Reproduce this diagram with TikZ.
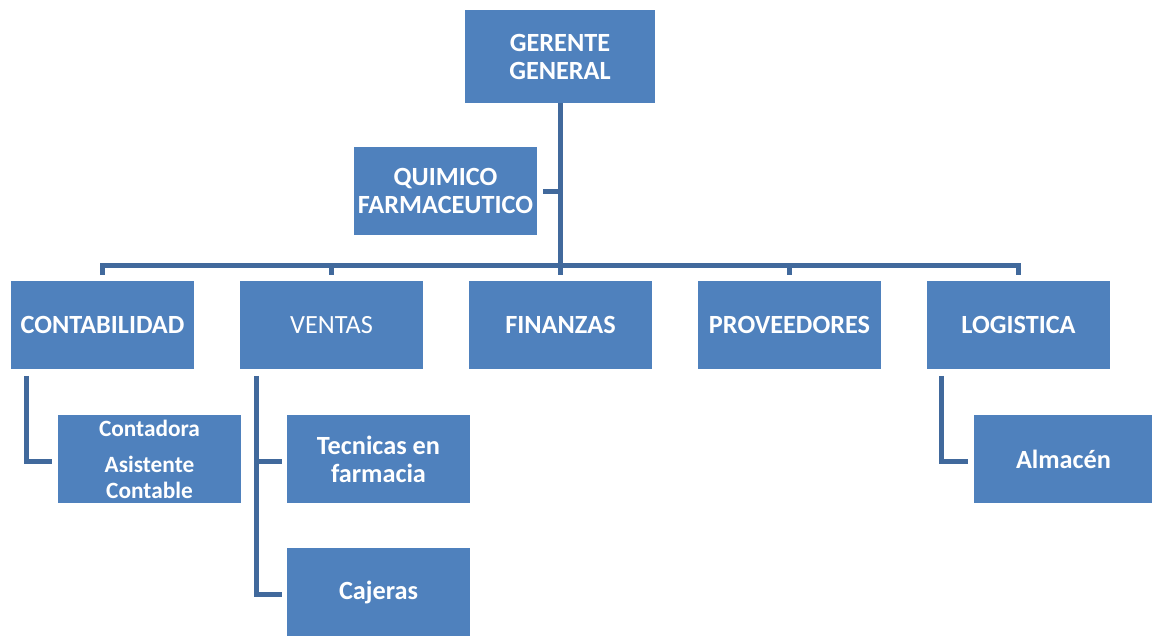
\documentclass[tikz,border=0pt]{standalone}
\usepackage{fontspec}
\setmainfont{Carlito}
\definecolor{cajaazul}{HTML}{4F81BD}
\definecolor{lineaazul}{HTML}{41699C}
\tikzset{
  caja/.style={rectangle,fill=cajaazul,text=white,inner sep=0pt,align=center,
    minimum width=137.25pt,minimum height=66pt,font=\fontsize{19.7}{21}\selectfont\bfseries},
  linea/.style={draw=lineaazul,line width=3.75pt}
}
\begin{document}
\begin{tikzpicture}[x=0.75pt,y=-0.75pt]
    \useasboundingbox (0,0) rectangle (1152,635);

    % 上层
    \node [caja,minimum width=142.5pt,minimum height=69.75pt] (gerente) at (560,56.5) {GERENTE\\GENERAL};
    \node [caja] (quimico) at (445.5,191) {QUIMICO\\FARMACEUTICO};

    % 各部门
    \node [caja] (conta) at (102.5,325) {CONTABILIDAD};
    \node [caja,font=\fontsize{19.7}{21}\selectfont] (ventas) at (331.5,325) {VENTAS};
    \node [caja] (finanzas) at (560.5,325) {FINANZAS};
    \node [caja] (prov) at (789.5,325) {PROVEEDORES};
    \node [caja] (logis) at (1018.5,325) {LOGISTICA};

    % 下层
    \node [caja,font=\fontsize{17.5}{19.5}\selectfont\bfseries] (contadora) at (149.5,459) {Contadora\\[7.5pt]Asistente\\Contable};
    \node [caja] (tecnicas) at (378.5,459) {Tecnicas en\\farmacia};
    \node [caja] (cajeras) at (378.5,592) {\raisebox{-3pt}{Cajeras}};
    \node [caja,minimum width=134pt] (almacen) at (1063.5,459) {Almac\'en};

    % 连线
    \coordinate (bus) at (560,265);
    \draw [linea] (gerente.south) -- (bus);
    \draw [linea] ([xshift=4.5pt]quimico.east) -- (quimico.east -| gerente.south);
    \draw [linea] ([yshift=4.5pt]conta.north) |- (bus) -| ([yshift=4.5pt]logis.north);
    \draw [linea] ([yshift=4.5pt]ventas.north) -- (ventas.north |- bus);
    \draw [linea] ([yshift=4.5pt]finanzas.north) -- (finanzas.north |- bus);
    \draw [linea] ([yshift=4.5pt]prov.north) -- (prov.north |- bus);

    \draw [linea] ([xshift=12pt,yshift=-5pt]conta.south west) |- ([xshift=-4.5pt,yshift=-1.5pt]contadora.west);
    \coordinate (vtop) at ([xshift=12.75pt,yshift=-5pt]ventas.south west);
    \draw [linea] (vtop) |- ([xshift=-3.75pt,yshift=-1.5pt]cajeras.west);
    \draw [linea] ([xshift=-3.75pt,yshift=-1.5pt]tecnicas.west) -- ([yshift=-1.5pt]tecnicas.west -| vtop);
    \draw [linea] ([xshift=11.25pt,yshift=-5pt]logis.south west) |- ([xshift=-4.5pt,yshift=-1.5pt]almacen.west);
\end{tikzpicture}
\end{document}
